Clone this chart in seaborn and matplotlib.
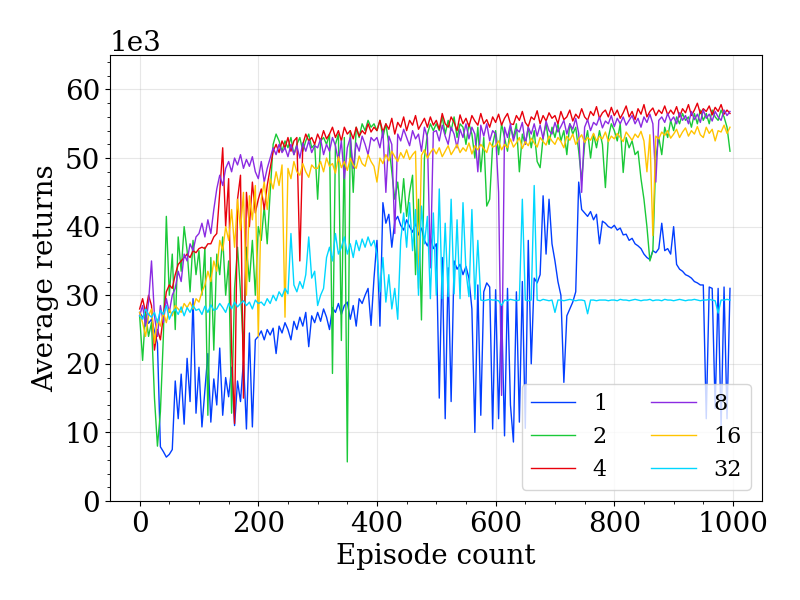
import numpy as np
import pandas as pd
import matplotlib
matplotlib.use('Agg')
import matplotlib.pyplot as plt
import seaborn as sns
from matplotlib.ticker import MultipleLocator, AutoMinorLocator

# episodes sampled every 5 steps, returns in thousands
episodes = np.arange(0, 1000, 5)

ret_1 = [
    27.5, 26.8, 27.2, 25.9, 26.5, 24.8, 23.0, 7.9, 7.2, 6.4, 6.8, 7.5, 17.5, 12.0, 18.5, 11.2, 20.8, 14.5, 29.5, 12.8,
    19.5, 10.8, 16.2, 21.5, 11.5, 17.8, 14.0, 22.3, 12.5, 18.0, 15.2, 19.5, 11.0, 17.5, 14.5, 20.5, 10.5, 24.5, 10.8, 23.5,
    24.0, 24.8, 23.5, 25.0, 24.2, 25.2, 21.5, 25.5, 24.5, 26.0, 25.0, 23.5, 26.2, 25.0, 26.8, 25.5, 27.5, 22.5, 27.0, 26.0,
    27.5, 26.2, 28.0, 26.8, 25.0, 28.2, 27.5, 28.8, 27.2, 28.5, 29.0, 26.5, 28.5, 25.5, 29.5, 28.8, 30.0, 31.0, 25.6, 32.5,
    38.0, 25.5, 43.5, 40.5, 41.8, 37.0, 40.8, 41.5, 40.2, 39.5, 41.0, 40.0, 39.2, 40.5, 38.8, 39.8, 38.0, 37.2, 38.5, 36.8,
    37.5, 15.0, 35.5, 12.0, 34.0, 14.5, 35.0, 33.8, 34.5, 33.0, 34.2, 32.5, 28.0, 10.0, 31.5, 12.5, 30.5, 31.8, 31.2, 10.5,
    30.8, 12.0, 28.5, 9.5, 31.0, 14.0, 8.6, 30.5, 11.5, 32.0, 10.6, 38.0, 20.0, 32.5, 31.8, 33.0, 44.5, 36.0, 44.0, 37.5,
    35.0, 32.0, 30.0, 17.3, 27.0, 28.0, 29.0, 30.5, 46.5, 42.5, 42.0, 41.5, 42.2, 41.0, 41.8, 37.5, 40.8, 40.5, 40.0, 39.8,
    40.2, 39.5, 39.8, 38.8, 38.9, 38.0, 38.3, 37.5, 37.2, 36.8, 36.0, 35.5, 35.2, 36.5, 36.2, 36.8, 40.5, 36.5, 36.8, 36.0,
    40.0, 34.5, 33.8, 33.5, 33.0, 32.8, 32.5, 32.0, 31.8, 31.5, 31.5, 12.0, 31.2, 31.0, 13.5, 31.0, 10.5, 31.2, 12.0, 31.0,
]

ret_2 = [
    27.0, 20.5, 27.5, 24.0, 26.0, 15.0, 8.0, 13.0, 24.0, 41.5, 30.0, 36.0, 25.0, 38.5, 33.5, 40.0, 36.5, 30.5, 38.0, 33.0,
    36.5, 30.0, 37.0, 12.5, 35.5, 22.0, 36.0, 33.0, 38.5, 30.0, 35.0, 12.8, 31.0, 37.0, 30.5, 22.0, 37.0, 32.0, 38.0, 30.0,
    40.0, 38.0, 43.0, 37.5, 45.0, 52.0, 53.5, 52.5, 51.0, 52.5, 51.5, 53.0, 50.5, 52.0, 53.0, 51.0, 52.5, 53.5, 51.5, 52.0,
    44.0, 52.5, 53.0, 52.0, 53.5, 18.6, 52.0, 53.5, 23.4, 53.0, 5.7, 54.0, 45.0, 54.5, 53.0, 55.0, 54.0, 55.5, 54.5, 55.0,
    54.0, 55.5, 53.0, 55.0, 52.0, 48.0, 44.0, 46.5, 42.0, 47.0, 41.5, 45.0, 47.5, 33.0, 44.0, 26.4, 50.0, 53.5, 55.0, 54.0,
    55.0, 54.0, 56.0, 53.5, 55.5, 54.0, 56.0, 53.0, 55.0, 54.5, 52.0, 55.0, 53.5, 50.0, 54.5, 48.0, 53.0, 43.0, 44.0, 52.0,
    54.0, 50.5, 55.0, 53.0, 51.0, 54.5, 53.0, 55.0, 48.0, 53.5, 52.0, 54.5, 51.5, 54.0, 49.5, 48.6, 53.0, 55.0, 52.0, 54.5,
    53.0, 55.0, 52.5, 54.0, 50.5, 55.0, 53.5, 54.5, 51.0, 46.7, 52.0, 54.0, 50.0, 53.5, 51.5, 54.0, 52.0, 45.7, 53.0, 55.0,
    54.0, 52.5, 55.0, 47.9, 53.0, 51.5, 52.5, 50.5, 51.0, 47.0, 44.0, 40.0, 35.0, 36.5, 50.0, 53.0, 50.5, 54.5, 53.0, 55.5,
    54.0, 56.0, 55.0, 56.5, 55.5, 56.0, 54.5, 56.5, 55.0, 57.0, 55.5, 56.5, 55.0, 57.0, 56.0, 55.5, 57.0, 56.0, 54.5, 51.0,
]

ret_4 = [
    28.0, 29.5, 27.5, 30.0, 28.5, 22.0, 25.0, 23.5, 27.0, 30.5, 31.5, 31.0, 33.0, 34.5, 35.0, 35.5, 36.0, 35.5, 36.5, 36.2,
    36.8, 37.0, 36.8, 37.5, 37.5, 38.5, 39.0, 45.0, 51.5, 40.0, 47.0, 22.0, 11.3, 44.0, 47.5, 15.0, 45.0, 40.0, 46.5, 42.0,
    44.0, 45.5, 42.5, 46.0, 48.5, 51.0, 52.0, 50.8, 52.5, 51.5, 53.0, 51.0, 52.5, 53.0, 35.0, 52.0, 53.5, 52.5, 53.0, 52.0,
    53.5, 52.5, 54.0, 52.8, 53.5, 54.5, 53.0, 54.0, 52.5, 54.5, 53.5, 54.0, 52.8, 54.5, 53.2, 54.0, 53.5, 55.0, 53.8, 54.5,
    54.0, 55.5, 53.8, 55.0, 54.2, 55.8, 53.5, 55.2, 54.5, 56.0, 54.0, 55.5, 54.8, 56.2, 54.2, 55.0, 55.8, 54.5, 56.0, 54.8,
    55.5, 54.2, 56.5, 55.0, 54.5, 56.0, 55.2, 54.0, 56.3, 55.0, 55.8, 54.6, 56.2, 55.4, 54.8, 56.5, 55.0, 55.6, 54.5, 56.0,
    55.2, 56.4, 54.8, 55.8, 56.5, 55.0, 54.9, 56.2, 55.5, 56.8, 55.2, 54.6, 56.0, 55.6, 56.9, 55.0, 56.2, 55.4, 56.6, 55.8,
    56.2, 55.0, 56.8, 55.6, 56.0, 57.0, 55.4, 56.4, 55.8, 57.2, 56.0, 55.5, 56.8, 56.2, 57.5, 55.8, 56.6, 57.0, 56.0, 57.4,
    56.2, 57.0, 55.8, 56.6, 57.6, 56.0, 56.8, 55.6, 57.2, 56.4, 57.8, 56.0, 56.8, 57.3, 56.2, 57.0, 56.5, 57.6, 56.3, 57.0,
    56.4, 57.5, 56.0, 57.2, 56.6, 57.8, 56.2, 57.0, 58.0, 56.5, 57.2, 56.8, 57.6, 56.3, 57.4, 56.8, 57.8, 56.4, 57.0, 56.5,
]

ret_8 = [
    27.0, 28.5, 25.5, 29.0, 35.0, 27.0, 24.0, 28.5, 26.0, 29.5, 27.5, 30.0, 31.0, 33.5, 32.0, 36.0, 35.0, 37.5, 36.5, 38.5,
    39.0, 40.5, 38.5, 41.0, 39.0, 42.5, 45.5, 47.5, 46.0, 48.5, 49.5, 48.0, 50.0, 49.0, 50.5, 48.5, 49.8, 48.8, 50.2, 48.0,
    47.0, 49.5, 46.5, 48.5, 50.0, 51.5, 50.5, 52.0, 50.8, 51.5, 50.2, 52.0, 50.5, 51.8, 50.0, 52.2, 51.0, 52.5, 50.8, 51.8,
    51.5, 52.8, 50.5, 52.0, 51.0, 53.0, 51.8, 49.5, 52.5, 47.0, 51.5, 53.0, 48.5, 52.2, 51.0, 53.2, 52.0, 50.5, 53.0, 52.5,
    53.0, 51.5, 54.0, 45.0, 53.2, 52.0, 39.0, 53.5, 52.5, 54.2, 53.0, 51.8, 54.0, 52.8, 53.5, 51.0, 54.5, 53.0, 34.0, 53.8,
    54.0, 52.5, 54.8, 53.2, 52.0, 54.5, 53.5, 51.5, 54.2, 53.0, 55.0, 52.8, 54.5, 53.5, 48.0, 54.8, 53.2, 55.0, 52.5, 54.0,
    53.5, 45.0, 15.4, 54.5, 53.0, 55.0, 52.5, 54.2, 53.8, 55.2, 52.0, 54.5, 53.5, 55.0, 53.2, 54.8, 52.8, 55.4, 54.0, 53.5,
    55.2, 53.8, 54.6, 55.5, 53.5, 55.0, 54.2, 55.8, 53.6, 45.0, 54.5, 55.6, 54.0, 55.2, 54.8, 56.0, 54.4, 55.4, 55.0, 56.2,
    54.6, 55.8, 55.0, 56.0, 54.8, 55.5, 56.2, 55.0, 55.8, 54.5, 56.0, 55.2, 56.4, 55.0, 46.5, 55.5, 56.0, 55.2, 56.5, 55.4,
    56.0, 55.0, 56.6, 55.5, 56.2, 55.0, 56.8, 55.6, 56.4, 55.2, 57.0, 55.8, 56.4, 55.4, 56.8, 56.0, 55.5, 57.0, 56.2, 56.8,
]

ret_16 = [
    27.5, 26.0, 24.0, 27.0, 28.0, 23.0, 26.5, 25.5, 27.5, 26.0, 28.0, 27.0, 28.5, 28.0, 27.5, 28.8, 28.2, 29.0, 28.0, 29.5,
    29.0, 30.5, 31.5, 33.5, 32.0, 35.0, 33.5, 38.0, 36.5, 40.0, 38.0, 42.5, 37.0, 44.0, 39.5, 45.0, 30.0, 44.5, 41.0, 46.0,
    24.0, 44.0, 46.5, 42.5, 47.0, 45.5, 48.0, 46.0, 49.0, 26.8, 48.5, 47.0, 49.5, 48.0, 47.5, 49.2, 48.0, 47.2, 49.0, 48.5,
    48.5, 49.5, 48.0, 50.0, 48.8, 49.2, 47.8, 50.2, 48.6, 49.5, 48.2, 50.0, 49.0, 48.5, 50.3, 49.2, 48.8, 50.5, 49.5, 48.8,
    46.5, 50.0, 49.2, 50.5, 49.6, 51.0, 50.2, 49.5, 50.8, 50.0, 51.2, 49.8, 50.5, 51.0, 31.0, 50.4, 51.2, 50.0, 50.8, 51.4,
    50.6, 51.5, 50.2, 51.0, 51.8, 50.5, 51.2, 52.0, 50.8, 51.5, 51.0, 52.2, 50.6, 51.8, 51.2, 52.0, 51.4, 50.8, 52.3, 51.6,
    51.8, 52.5, 51.2, 52.0, 51.5, 52.8, 51.6, 52.2, 53.0, 51.4, 52.4, 51.8, 52.9, 52.2, 51.6, 53.0, 52.4, 51.9, 53.2, 52.5,
    52.0, 53.0, 52.4, 51.5, 53.2, 52.6, 53.5, 52.0, 52.8, 53.4, 52.3, 53.0, 52.6, 53.6, 52.5, 53.2, 52.8, 53.8, 52.4, 53.2,
    52.8, 53.6, 53.0, 52.4, 53.8, 53.2, 52.6, 53.5, 53.0, 53.9, 52.5, 48.0, 53.4, 38.7, 53.2, 52.8, 53.8, 53.3, 54.0, 52.9,
    53.5, 54.2, 53.0, 53.8, 54.4, 53.2, 54.0, 53.5, 54.6, 53.4, 53.0, 54.5, 53.6, 54.2, 52.5, 54.0, 53.8, 54.8, 53.6, 54.5,
]

ret_32 = [
    27.0, 26.5, 28.0, 27.2, 26.8, 27.5, 26.0, 27.8, 27.2, 28.5, 26.5, 27.5, 28.0, 27.2, 28.3, 27.0, 28.2, 27.5, 28.5, 27.8,
    28.0, 27.2, 28.4, 27.5, 28.6, 27.8, 28.0, 28.8, 28.2, 27.5, 28.8, 28.0, 29.0, 28.3, 28.8, 29.2, 28.5, 29.0, 28.0, 29.3,
    28.8, 29.0, 28.5, 29.5, 28.8, 30.0, 29.2, 30.5, 29.8, 31.0, 30.2, 39.0, 31.5, 30.5, 32.0, 31.0, 33.0, 38.5, 32.5, 33.5,
    28.5, 30.0, 31.0, 35.5, 37.0, 35.0, 39.0, 36.0, 37.0, 38.5, 36.0, 37.5, 35.5, 38.0, 36.5, 38.2, 37.0, 38.5, 37.2, 38.0,
    36.0, 30.5, 35.5, 29.0, 33.0, 28.0, 31.0, 26.5, 38.0, 42.0, 37.0, 43.5, 36.5, 42.5, 30.0, 43.0, 37.5, 41.5, 29.5, 42.0,
    30.0, 45.5, 29.5, 40.5, 29.8, 44.0, 30.2, 41.0, 29.5, 43.5, 33.5, 29.8, 42.5, 29.4, 38.0, 29.3, 29.2, 29.3, 29.4, 29.3,
    29.3, 29.2, 28.5, 29.3, 29.2, 29.4, 29.3, 29.2, 29.3, 44.0, 29.3, 29.2, 29.3, 46.0, 29.3, 29.2, 29.4, 29.3, 29.2, 29.3,
    27.5, 29.3, 29.3, 29.2, 29.3, 29.4, 29.3, 29.2, 29.3, 29.3, 29.2, 27.3, 29.3, 29.3, 29.2, 29.3, 29.3, 29.3, 29.2, 29.3,
    29.3, 29.2, 29.4, 29.3, 29.3, 29.2, 29.3, 29.4, 29.3, 29.2, 29.3, 29.3, 29.4, 29.2, 29.3, 29.3, 29.2, 29.4, 29.3, 29.3,
    29.2, 29.3, 29.4, 29.3, 29.2, 29.3, 29.3, 29.4, 29.3, 29.2, 29.3, 29.3, 29.4, 29.3, 29.2, 27.4, 29.3, 29.3, 29.4, 29.3,
]

labels = ['1', '2', '4', '8', '16', '32']
series = [ret_1, ret_2, ret_4, ret_8, ret_16, ret_32]

bright = sns.color_palette('bright')
colors = [bright[0], bright[2], bright[3], bright[4], bright[8], bright[9]]

plt.rcParams['font.family'] = ['DejaVu Serif']

fig, ax = plt.subplots(figsize=(8, 6), dpi=100)
fig.subplots_adjust(left=0.1375, right=0.9525, bottom=0.165, top=0.908)

for lab, vals, col in zip(labels, series, colors):
    df = pd.DataFrame({'episode': episodes, 'ret': np.array(vals) * 1000})
    sns.lineplot(data=df, x='episode', y='ret', color=col, lw=1, label=lab, ax=ax)

ax.set_xlim(-49.95, 1048.95)
ax.set_ylim(0, 65000)
ax.xaxis.set_major_locator(MultipleLocator(200))
ax.xaxis.set_minor_locator(MultipleLocator(50))
ax.yaxis.set_major_locator(MultipleLocator(10000))
ax.yaxis.set_minor_locator(AutoMinorLocator(5))
ax.ticklabel_format(axis='y', style='sci', scilimits=(3, 3))
ax.tick_params(labelsize=20)
ax.yaxis.get_offset_text().set_fontsize(20)
ax.grid(True, which='major', alpha=0.3)

ax.set_xlabel('Episode count', fontsize=20)
ax.set_ylabel('Average returns', fontsize=20)
ax.legend(loc='lower right', ncol=2, fontsize=16)

plt.savefig('out.png', dpi=100)
